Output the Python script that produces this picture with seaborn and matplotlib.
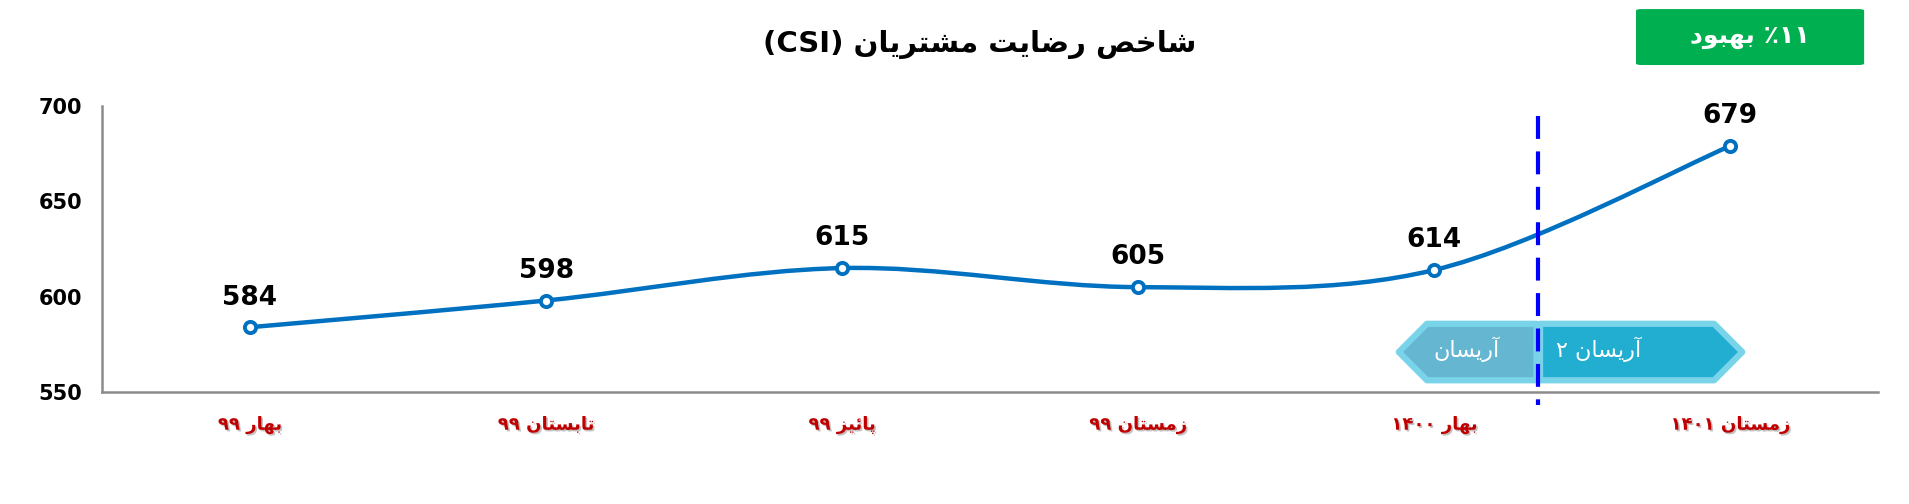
import numpy as np
import seaborn as sns
import matplotlib
matplotlib.use('Agg')
import matplotlib.pyplot as plt
import matplotlib.patheffects as pe
from matplotlib.path import Path
from matplotlib.patches import PathPatch, Polygon, FancyBboxPatch

sns.set_style('white')
plt.rcParams['font.family'] = ['DejaVu Sans']

# ----------------------------------------------------------------------
# data
# ----------------------------------------------------------------------
seasons = ['بهار ۹۹', 'تابستان ۹۹', 'پائیز ۹۹', 'زمستان ۹۹', 'بهار ۱۴۰۰', 'زمستان ۱۴۰۱']
csi = [584, 598, 615, 605, 614, 679]
yticks = [550, 600, 650, 700]
title = 'شاخص رضایت مشتریان (CSI)'
badge = '۱۱٪ بهبود'
phase_1 = 'آریسان'
phase_2 = 'آریسان ۲'

# ----------------------------------------------------------------------
# tiny persian shaper (matplotlib has no arabic shaping / bidi)
# ----------------------------------------------------------------------
# iso, fin, init, med
FORMS = {
    'ا': ('\uFE8D', '\uFE8E', None, None),
    'آ': ('\uFE81', '\uFE82', None, None),
    'د': ('\uFEA9', '\uFEAA', None, None),
    'ر': ('\uFEAD', '\uFEAE', None, None),
    'ز': ('\uFEAF', '\uFEB0', None, None),
    'و': ('\uFEED', '\uFEEE', None, None),
    'ب': ('\uFE8F', '\uFE90', '\uFE91', '\uFE92'),
    'ت': ('\uFE95', '\uFE96', '\uFE97', '\uFE98'),
    'خ': ('\uFEA5', '\uFEA6', '\uFEA7', '\uFEA8'),
    'س': ('\uFEB1', '\uFEB2', '\uFEB3', '\uFEB4'),
    'ش': ('\uFEB5', '\uFEB6', '\uFEB7', '\uFEB8'),
    'ص': ('\uFEB9', '\uFEBA', '\uFEBB', '\uFEBC'),
    'ض': ('\uFEBD', '\uFEBE', '\uFEBF', '\uFEC0'),
    'م': ('\uFEE1', '\uFEE2', '\uFEE3', '\uFEE4'),
    'ن': ('\uFEE5', '\uFEE6', '\uFEE7', '\uFEE8'),
    'ه': ('\uFEE9', '\uFEEA', '\uFEEB', '\uFEEC'),
    'ئ': ('\uFE89', '\uFE8A', '\uFE8B', '\uFE8C'),
    'ی': ('\uFBFC', '\uFBFD', '\uFEF3', '\uFEF4'),
    'پ': ('\uFB56', '\uFB57', '\uFB58', '\uFB59'),
}
MIRROR = {'(': ')', ')': '('}


def shape(s):
    out = []
    for i, c in enumerate(s):
        if c not in FORMS:
            out.append(c)
            continue
        prev = s[i - 1] if i > 0 else ''
        nxt = s[i + 1] if i + 1 < len(s) else ''
        jp = prev in FORMS and FORMS[prev][2] is not None
        jn = FORMS[c][2] is not None and nxt in FORMS
        iso, fin, ini, med = FORMS[c]
        if jp and jn:
            out.append(med)
        elif jp:
            out.append(fin)
        elif jn:
            out.append(ini)
        else:
            out.append(iso)
    return ''.join(out)


def is_ltr(c):
    return (c.isascii() and c.isalnum()) or ('\u06F0' <= c <= '\u06F9')


def fa(s):
    s = shape(s)
    runs = []
    for c in s:
        kind = is_ltr(c)
        if runs and runs[-1][0] == kind:
            runs[-1][1].append(c)
        else:
            runs.append([kind, [c]])
    parts = []
    for kind, chars in reversed(runs):
        if kind:
            parts.append(''.join(chars))
        else:
            parts.append(''.join(MIRROR.get(c, c) for c in reversed(chars)))
    return ''.join(parts)


# ----------------------------------------------------------------------
# figure
# ----------------------------------------------------------------------
fig = plt.figure(figsize=(19.09, 5.04), dpi=100)
ax = fig.add_axes([0.0534, 0.222, 0.9306, 0.568])

x = np.arange(len(csi))
blue = '#0070C0'

# smoothed line (excel style, catmull-rom bezier through the points)
verts = [(x[0], csi[0])]
codes = [Path.MOVETO]
for i in range(len(x) - 1):
    p0 = np.array([x[max(i - 1, 0)], csi[max(i - 1, 0)]], float)
    p1 = np.array([x[i], csi[i]], float)
    p2 = np.array([x[i + 1], csi[i + 1]], float)
    p3 = np.array([x[min(i + 2, len(x) - 1)], csi[min(i + 2, len(x) - 1)]], float)
    c1 = p1 + (p2 - p0) / 6
    c2 = p2 - (p3 - p1) / 6
    verts += [tuple(c1), tuple(c2), tuple(p2)]
    codes += [Path.CURVE4] * 3
ax.add_patch(PathPatch(Path(verts, codes), fill=False, edgecolor=blue, lw=3.2,
                       capstyle='round', zorder=3))

sns.scatterplot(x=x, y=csi, ax=ax, s=65, color='white', edgecolor=blue,
                linewidth=2.8, zorder=4, legend=False)

for xi, v in zip(x, csi):
    ax.annotate(str(v), (xi, v), xytext=(0, 12), textcoords='offset points',
                ha='center', va='bottom', fontsize=19, fontweight='bold',
                color='black')

# phase separator
ax.plot([4.35, 4.35], [694.8, 543.2], color='#0000FF', lw=3, dashes=(5.5, 3),
        clip_on=False, zorder=5)

# phase arrows
top, bot, mid = 585.8, 556.2, 571
left_box = Polygon([(4.345, top), (3.975, top), (3.88, mid), (3.975, bot), (4.345, bot)],
                   closed=True, facecolor='#65B6D1', edgecolor='#79D4EA', lw=4.5,
                   joinstyle='round', zorder=2)
right_box = Polygon([(4.357, top), (4.945, top), (5.04, mid), (4.945, bot), (4.357, bot)],
                    closed=True, facecolor='#21AED1', edgecolor='#79D4EA', lw=4.5,
                    joinstyle='round', zorder=2)
ax.add_patch(left_box)
ax.add_patch(right_box)
ax.text(4.11, mid + 1.5, fa(phase_1), ha='center', va='center', color='white',
        fontsize=16, zorder=6)
ax.text(4.555, mid + 1.5, fa(phase_2), ha='center', va='center', color='white',
        fontsize=16, zorder=6)

# axes
ax.set_xlim(-0.5, 5.5)
ax.set_ylim(550, 700)
ax.set_yticks(yticks)
ax.set_yticklabels([str(t) for t in yticks], fontsize=15, fontweight='bold',
                   color='black', family=['Liberation Sans Narrow', 'DejaVu Sans'])
ax.set_xticks(x)
ax.set_xticklabels([fa(s) for s in seasons], fontsize=13, fontweight='bold',
                   color='#C00000')
for lab in ax.get_xticklabels():
    lab.set_path_effects([pe.SimplePatchShadow(offset=(1.2, -1.2), shadow_rgbFace='#888888',
                                               alpha=0.5), pe.Normal()])
ax.set_xticks(np.arange(0.5, 6, 1), minor=True)
ax.tick_params(axis='x', which='major', length=0, pad=17)
ax.tick_params(axis='x', which='minor', length=6, width=1.5, color='#8C8C8C',
               direction='out')
ax.tick_params(axis='y', length=6, width=1.5, color='#8C8C8C', direction='out',
               pad=8)
for side in ['top', 'right']:
    ax.spines[side].set_visible(False)
for side in ['left', 'bottom']:
    ax.spines[side].set_color('#8C8C8C')
    ax.spines[side].set_linewidth(1.8)

# title
fig.text(0.513, 0.912, fa(title), ha='center', va='center', fontsize=21,
         fontweight='bold', color='black')

# badge
fig.patches.append(FancyBboxPatch((0.857, 0.871), 0.1195, 0.111,
                                  boxstyle='round,pad=0,rounding_size=0.003',
                                  transform=fig.transFigure, facecolor='#00B050',
                                  edgecolor='none'))
fig.text(0.9168, 0.926, fa(badge), ha='center', va='center', fontsize=18,
         fontweight='bold', color='white')

fig.savefig('out.png', dpi=100, facecolor='white')
